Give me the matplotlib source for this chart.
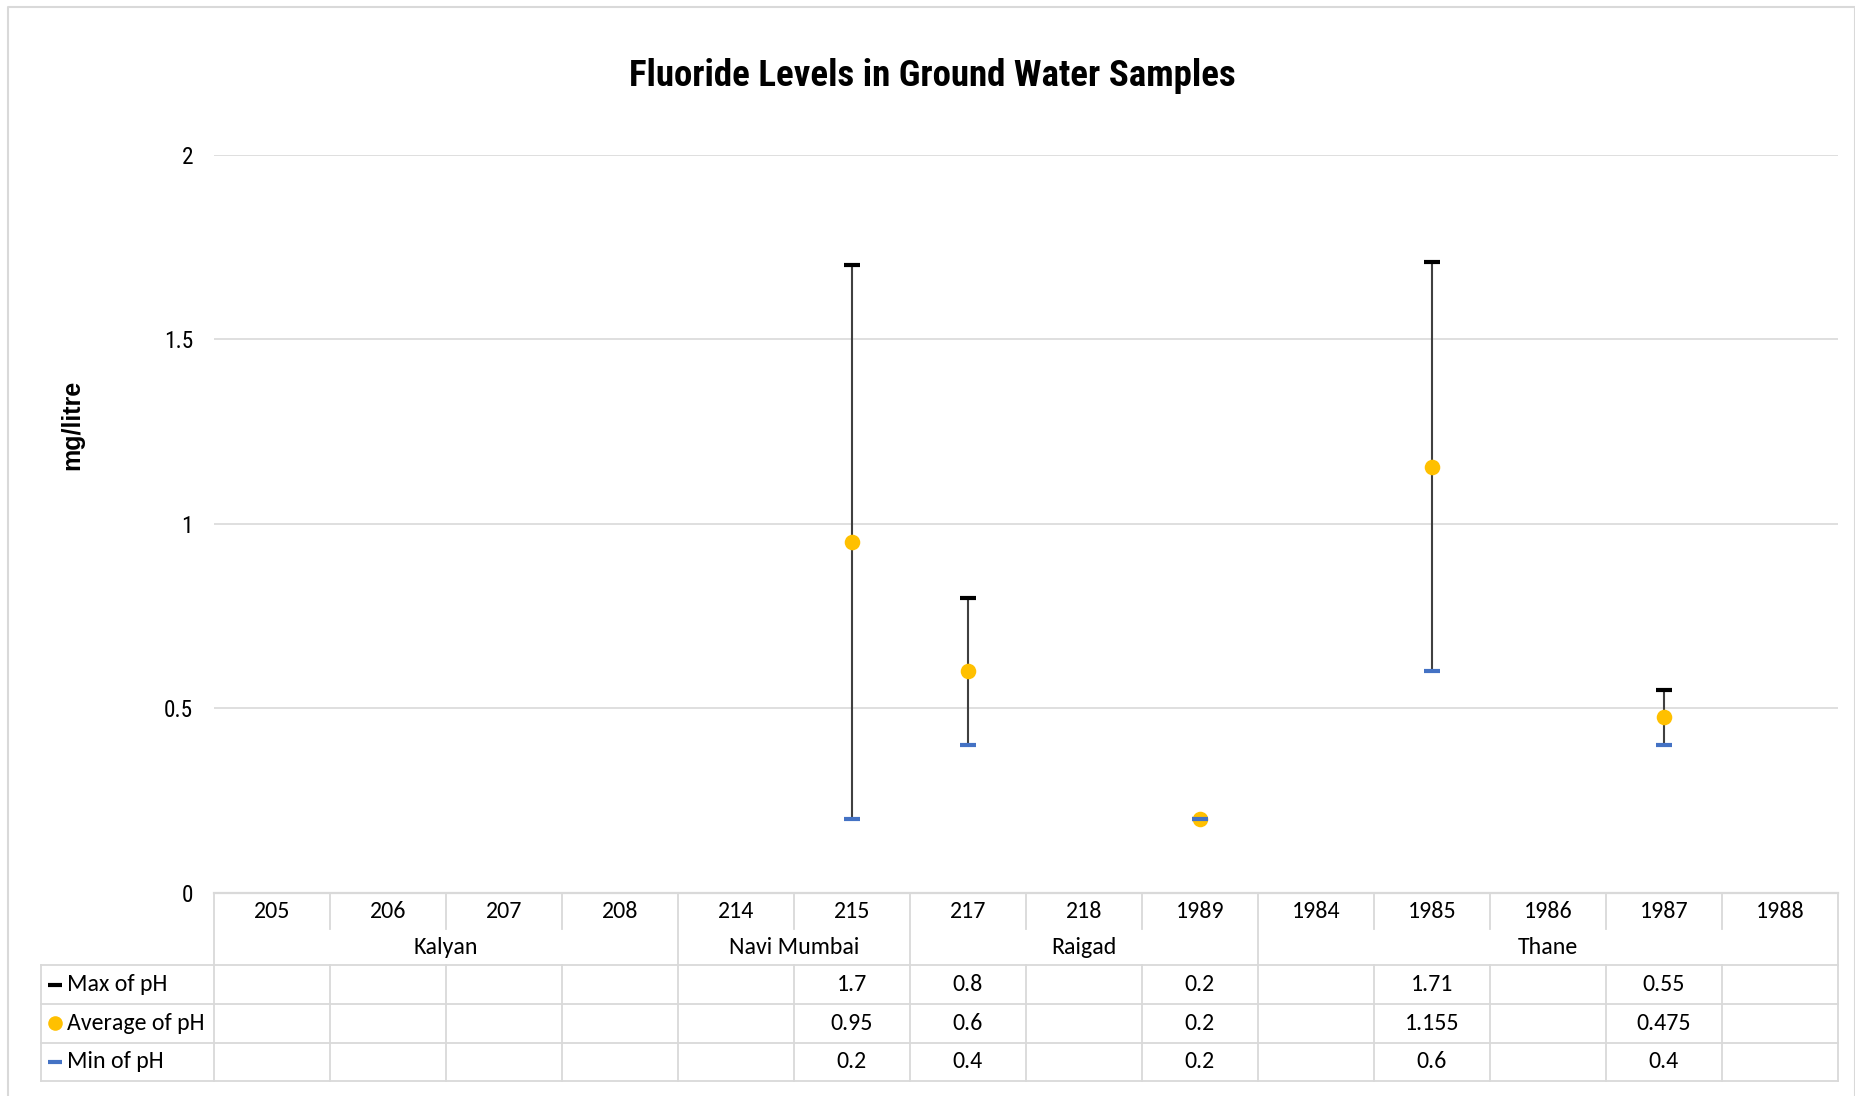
import matplotlib
matplotlib.use("Agg")
import matplotlib.pyplot as plt
from matplotlib.lines import Line2D
from matplotlib.transforms import blended_transform_factory
import numpy as np

# ---------------- data ----------------
categories = ["205", "206", "207", "208", "214", "215", "217", "218",
              "1989", "1984", "1985", "1986", "1987", "1988"]
groups = ["Kalyan", "Navi Mumbai", "Raigad", "Thane"]
group_sizes = [4, 2, 3, 5]
max_ph = [None, None, None, None, None, 1.7, 0.8, None, 0.2, None, 1.71, None, 0.55, None]
avg_ph = [None, None, None, None, None, 0.95, 0.6, None, 0.2, None, 1.155, None, 0.475, None]
min_ph = [None, None, None, None, None, 0.2, 0.4, None, 0.2, None, 0.6, None, 0.4, None]
series_names = ["Max of pH", "Average of pH", "Min of pH"]
title = "Fluoride Levels in Ground Water Samples"
ylabel = "mg/litre"
yticks = [0, 0.5, 1, 1.5, 2]

# ---------------- style ----------------
W, H = 1856, 1096
C_MAX = "#000000"
C_AVG = "#FFC000"
C_MIN = "#4472C4"
C_LINE = "#404040"
C_GRID = "#D9D9D9"
TABLE_FONT = ["Carlito", "DejaVu Sans"]
TICK_FONT = ["Roboto Condensed", "DejaVu Sans"]

fig = plt.figure(figsize=(W / 100, H / 100), dpi=100)
fig.patch.set_facecolor("white")

def fx(px):
    return px / W

def fy(py):
    return 1 - py / H

ax_left, ax_right, ax_top, ax_bot = 214, 1838, 154.7, 892.7
ax = fig.add_axes([fx(ax_left), fy(ax_bot), fx(ax_right - ax_left), (ax_bot - ax_top) / H])
n = len(categories)
x = np.arange(n)
ax.set_xlim(-0.5, n - 0.5)
ax.set_ylim(0, 2)
for s in ax.spines.values():
    s.set_visible(False)
ax.set_xticks([])
ax.set_yticks(yticks)
ax.set_yticklabels([f"{t:g}" for t in yticks], family=TICK_FONT, fontsize=16.8, color="#000000")
ax.tick_params(axis="y", length=0, pad=15)
for t in yticks[1:]:
    ax.axhline(t, color=C_GRID, lw=1.2, zorder=0)

def arr(v):
    return np.array([np.nan if a is None else a for a in v], dtype=float)

mx, av, mn = arr(max_ph), arr(avg_ph), arr(min_ph)
ok = ~np.isnan(mx)
ax.vlines(x[ok], mn[ok], mx[ok], color=C_LINE, lw=1.5, zorder=2)
ax.plot(x, mx, ls="none", marker="_", ms=11.5, mew=3.0, color=C_MAX, zorder=3)
ax.plot(x, av, ls="none", marker="o", ms=11.2, mew=0, color=C_AVG, zorder=4)
ax.plot(x, mn, ls="none", marker="_", ms=11.5, mew=3.0, color=C_MIN, zorder=5)

# ---------------- data table ----------------
tr = blended_transform_factory(ax.transData, fig.transFigure)
leg_left = 41
rows = [892.7, 929.0, 965.0, 1004.0, 1042.7, 1080.7]
lw_t = 1.3

def hline_data(py, x0, x1, lw=lw_t):
    fig.add_artist(Line2D([x0, x1], [fy(py), fy(py)], transform=tr, color=C_GRID, lw=lw, clip_on=False))

def hline_fig(py, px0, px1):
    fig.add_artist(Line2D([fx(px0), fx(px1)], [fy(py), fy(py)], transform=fig.transFigure,
                          color=C_GRID, lw=lw_t, clip_on=False))

def vline_data(xd, py0, py1):
    fig.add_artist(Line2D([xd, xd], [fy(py0), fy(py1)], transform=tr, color=C_GRID, lw=lw_t, clip_on=False))

hline_data(rows[0], -0.5, n - 0.5, lw=1.6)
for r in rows[2:]:
    hline_fig(r, leg_left, ax_left)
    hline_data(r, -0.5, n - 0.5)

bounds = np.cumsum([0] + group_sizes)
for k in range(n + 1):
    xd = k - 0.5
    if k in bounds:
        vline_data(xd, rows[0], rows[-1])
    else:
        vline_data(xd, rows[0], rows[1])
        vline_data(xd, rows[2], rows[-1])
fig.add_artist(Line2D([fx(leg_left)] * 2, [fy(rows[2]), fy(rows[-1])], transform=fig.transFigure,
                      color=C_GRID, lw=lw_t, clip_on=False))

tfs = 17.2
for i, c in enumerate(categories):
    fig.text(i, fy(911), c, transform=tr, ha="center", va="center", family=TABLE_FONT, fontsize=tfs)
for g, b0, sz in zip(groups, bounds[:-1], group_sizes):
    fig.text(b0 + (sz - 1) / 2, fy(948), g, transform=tr, ha="center", va="center",
             family=TABLE_FONT, fontsize=tfs)

row_centers = [(rows[2] + rows[3]) / 2, (rows[3] + rows[4]) / 2, (rows[4] + rows[5]) / 2]
series = [mx, av, mn]
styles = [dict(marker="_", ms=10, mew=3.0, color=C_MAX),
          dict(marker="o", ms=10.5, mew=0, color=C_AVG),
          dict(marker="_", ms=10, mew=3.0, color=C_MIN)]
for name, vals, st, yc in zip(series_names, series, styles, row_centers):
    fig.add_artist(Line2D([fx(55)], [fy(yc)], transform=fig.transFigure, ls="none", **st))
    fig.text(fx(67), fy(yc), name, ha="left", va="center", family=TABLE_FONT, fontsize=tfs)
    for i, v in enumerate(vals):
        if not np.isnan(v):
            fig.text(i, fy(yc), f"{v:g}", transform=tr, ha="center", va="center",
                     family=TABLE_FONT, fontsize=tfs)

# ---------------- titles ----------------
fig.text(fx(932), fy(86), title, ha="center", va="baseline", family=TICK_FONT,
         fontweight="bold", fontsize=26.6)
fig.text(fx(72), fy(425), ylabel, ha="center", va="center", rotation=90,
         family=["Liberation Sans", "DejaVu Sans"], fontweight="bold", fontsize=18)

# chart border
fig.add_artist(Line2D([fx(8), fx(8), fx(1855), fx(1855)], [fy(1100), fy(6.5), fy(6.5), fy(1100)],
                      transform=fig.transFigure, color=C_GRID, lw=1.5, clip_on=False))

fig.savefig("out.png", dpi=100, facecolor="white")
